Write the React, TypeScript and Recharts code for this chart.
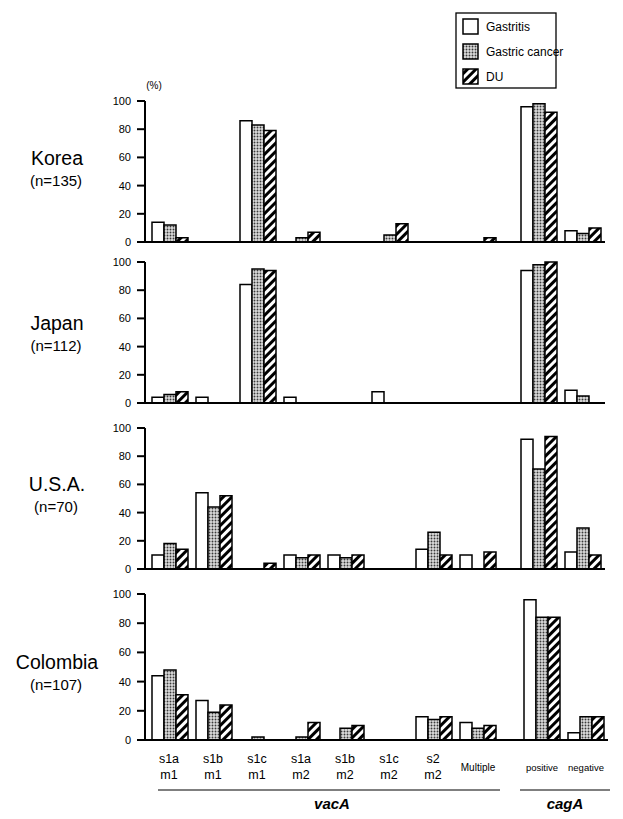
import React from 'react';
import { BarChart, Bar, XAxis, YAxis } from 'recharts';

const vacACategories = ['s1a m1', 's1b m1', 's1c m1', 's1a m2', 's1b m2', 's1c m2', 's2 m2', 'Multiple'];
const cagACategories = ['positive', 'negative'];
const seriesNames = ['Gastritis', 'Gastric cancer', 'DU'];
const yTicks = [0, 20, 40, 60, 80, 100];

// values: 8 vacA categories followed by cagA positive, negative (%)
const koreaGastritis = [14, 0, 86, 0, 0, 0, 0, 0, 96, 8];
const koreaCancer = [12, 0, 83, 3, 0, 5, 0, 0, 98, 6];
const koreaDU = [3, 0, 79, 7, 0, 13, 0, 3, 92, 10];

const japanGastritis = [4, 4, 84, 4, 0, 8, 0, 0, 94, 9];
const japanCancer = [6, 0, 95, 0, 0, 0, 0, 0, 98, 5];
const japanDU = [8, 0, 94, 0, 0, 0, 0, 0, 100, 0];

const usaGastritis = [10, 54, 0, 10, 10, 0, 14, 10, 92, 12];
const usaCancer = [18, 44, 0, 8, 8, 0, 26, 0, 71, 29];
const usaDU = [14, 52, 4, 10, 10, 0, 10, 12, 94, 10];

const colombiaGastritis = [44, 27, 0, 0, 0, 0, 16, 12, 96, 5];
const colombiaCancer = [48, 19, 2, 2, 8, 0, 14, 8, 84, 16];
const colombiaDU = [31, 24, 0, 12, 10, 0, 16, 10, 84, 16];

const FONT = '"Liberation Sans", Arial, sans-serif';
const fills = ['#ffffff', 'url(#dots)', 'url(#hatch)'];
const keys = ['g', 'c', 'd'];

interface PanelProps {
  name: string;
  n: string;
  top: number;
  plotH: number;
  labelY: number;
  gastritis: number[];
  cancer: number[];
  du: number[];
  bottom?: boolean;
  cagAPad?: number;
}

function buildRows(cats: string[], offset: number, g: number[], c: number[], d: number[]) {
  return cats.map((cat, i) => ({ cat, g: g[i + offset], c: c[i + offset], d: d[i + offset] }));
}

const TwoLineTick = (props: any) => {
  const { x, y, payload } = props;
  const parts = String(payload.value).split(' ');
  if (parts.length === 1) {
    const small = payload.value === 'positive' || payload.value === 'negative';
    return (
      <text x={x} y={y + 31} textAnchor="middle" fontSize={small ? 9.5 : 10} fontFamily={FONT} fill="#000">
        {payload.value}
      </text>
    );
  }
  return (
    <text textAnchor="middle" fontSize={12.5} fontFamily={FONT} fill="#000">
      <tspan x={x - 1} y={y + 23}>{parts[0]}</tspan>
      <tspan x={x - 1} y={y + 39}>{parts[1]}</tspan>
    </text>
  );
};

function bars() {
  return keys.map((k, i) => (
    <Bar
      key={k}
      dataKey={k}
      name={seriesNames[i]}
      fill={fills[i]}
      stroke="#000"
      strokeWidth={1.5}
      barSize={12}
      isAnimationActive={false}
    />
  ));
}

function Panel({ top, plotH, gastritis, cancer, du, bottom, cagAPad = 17 }: PanelProps) {
  const xH = bottom ? 50 : 1;
  const mTop = 5;
  const mBottom = bottom ? 2 : 9;
  const h = mTop + plotH + xH + mBottom;
  const margin = { top: mTop, right: 0, left: 0, bottom: mBottom };
  const vacRows = buildRows(vacACategories, 0, gastritis, cancer, du);
  const cagRows = buildRows(cagACategories, 8, gastritis, cancer, du);
  const axisStyle = { stroke: '#000', strokeWidth: 2 };
  return (
    <>
      <div style={{ position: 'absolute', left: 100, top: top - mTop }}>
        <BarChart width={400} height={h} data={vacRows} margin={margin} barGap={0}>
          <XAxis
            dataKey="cat"
            padding={{ left: 3, right: 0 }}
            axisLine={axisStyle}
            tickLine={false}
            tickSize={0}
            tickMargin={0}
            interval={0}
            height={xH}
            tick={bottom ? <TwoLineTick /> : false}
          />
          <YAxis
            domain={[0, 100]}
            ticks={yTicks}
            interval={0}
            width={45}
            tickSize={8}
            tickMargin={6}
            axisLine={axisStyle}
            tickLine={axisStyle}
            tick={{ fill: '#000', fontSize: 11, fontFamily: FONT }}
          />
          {bars()}
        </BarChart>
      </div>
      <div style={{ position: 'absolute', left: 500, top: top - mTop }}>
        <BarChart width={88 + cagAPad} height={h} data={cagRows} margin={margin} barGap={0}>
          <XAxis
            dataKey="cat"
            padding={{ left: cagAPad, right: 0 }}
            axisLine={axisStyle}
            tickLine={false}
            tickSize={0}
            tickMargin={0}
            interval={0}
            height={xH}
            tick={bottom ? <TwoLineTick /> : false}
          />
          <YAxis hide domain={[0, 100]} ticks={yTicks} />
          {bars()}
        </BarChart>
      </div>
    </>
  );
}

const panels: PanelProps[] = [
  { name: 'Korea', n: '(n=135)', top: 101, plotH: 141, labelY: 158, gastritis: koreaGastritis, cancer: koreaCancer, du: koreaDU },
  { name: 'Japan', n: '(n=112)', top: 262, plotH: 141, labelY: 323, gastritis: japanGastritis, cancer: japanCancer, du: japanDU },
  { name: 'U.S.A.', n: '(n=70)', top: 428, plotH: 141, labelY: 484, gastritis: usaGastritis, cancer: usaCancer, du: usaDU },
  { name: 'Colombia', n: '(n=107)', top: 594, plotH: 146, labelY: 662, gastritis: colombiaGastritis, cancer: colombiaCancer, du: colombiaDU, bottom: true, cagAPad: 20 },
];

export default function App() {
  return (
    <div style={{ position: 'absolute', left: 0, top: 0, width: 623, height: 819, background: '#fff', fontFamily: FONT }}>
      <svg width={0} height={0} style={{ position: 'absolute' }}>
        <defs>
          <pattern id="dots" width={3} height={3} patternUnits="userSpaceOnUse">
            <rect width={3} height={3} fill="#dcdcdc" />
            <circle cx={1.5} cy={1.5} r={0.95} fill="#3a3a3a" />
          </pattern>
          <pattern id="hatch" width={6} height={6} patternUnits="userSpaceOnUse" patternTransform="rotate(45)">
            <rect width={6} height={6} fill="#fff" />
            <rect width={3} height={6} fill="#000" />
          </pattern>
        </defs>
      </svg>
      {panels.map((p) => (
        <Panel key={p.name} {...p} />
      ))}
      <svg width={623} height={819} style={{ position: 'absolute', left: 0, top: 0, pointerEvents: 'none' }} fontFamily={FONT}>
        <text x={154} y={89} fontSize={10} textAnchor="middle">(%)</text>
        {panels.map((p) => (
          <g key={p.name}>
            <text x={57} y={p.labelY + 7} fontSize={19.5} textAnchor="middle">{p.name}</text>
            <text x={56} y={p.labelY + 28} fontSize={15} textAnchor="middle">{p.n}</text>
          </g>
        ))}
        <rect x={456} y={13} width={100} height={75} fill="none" stroke="#000" strokeWidth={1.3} />
        {seriesNames.map((s, i) => (
          <g key={s}>
            <rect x={463} y={19 + i * 25} width={15} height={15} fill={fills[i]} stroke="#000" strokeWidth={1.5} />
            <text x={486} y={30.5 + i * 25} fontSize={12}>{s}</text>
          </g>
        ))}
        <line x1={158} x2={500} y1={790} y2={790} stroke="#000" strokeWidth={1.2} />
        <line x1={520} x2={610} y1={790} y2={790} stroke="#000" strokeWidth={1.2} />
        <text x={332} y={809} fontSize={15} fontWeight="bold" fontStyle="italic" textAnchor="middle">vacA</text>
        <text x={565} y={809} fontSize={15} fontWeight="bold" fontStyle="italic" textAnchor="middle">cagA</text>
      </svg>
    </div>
  );
}
